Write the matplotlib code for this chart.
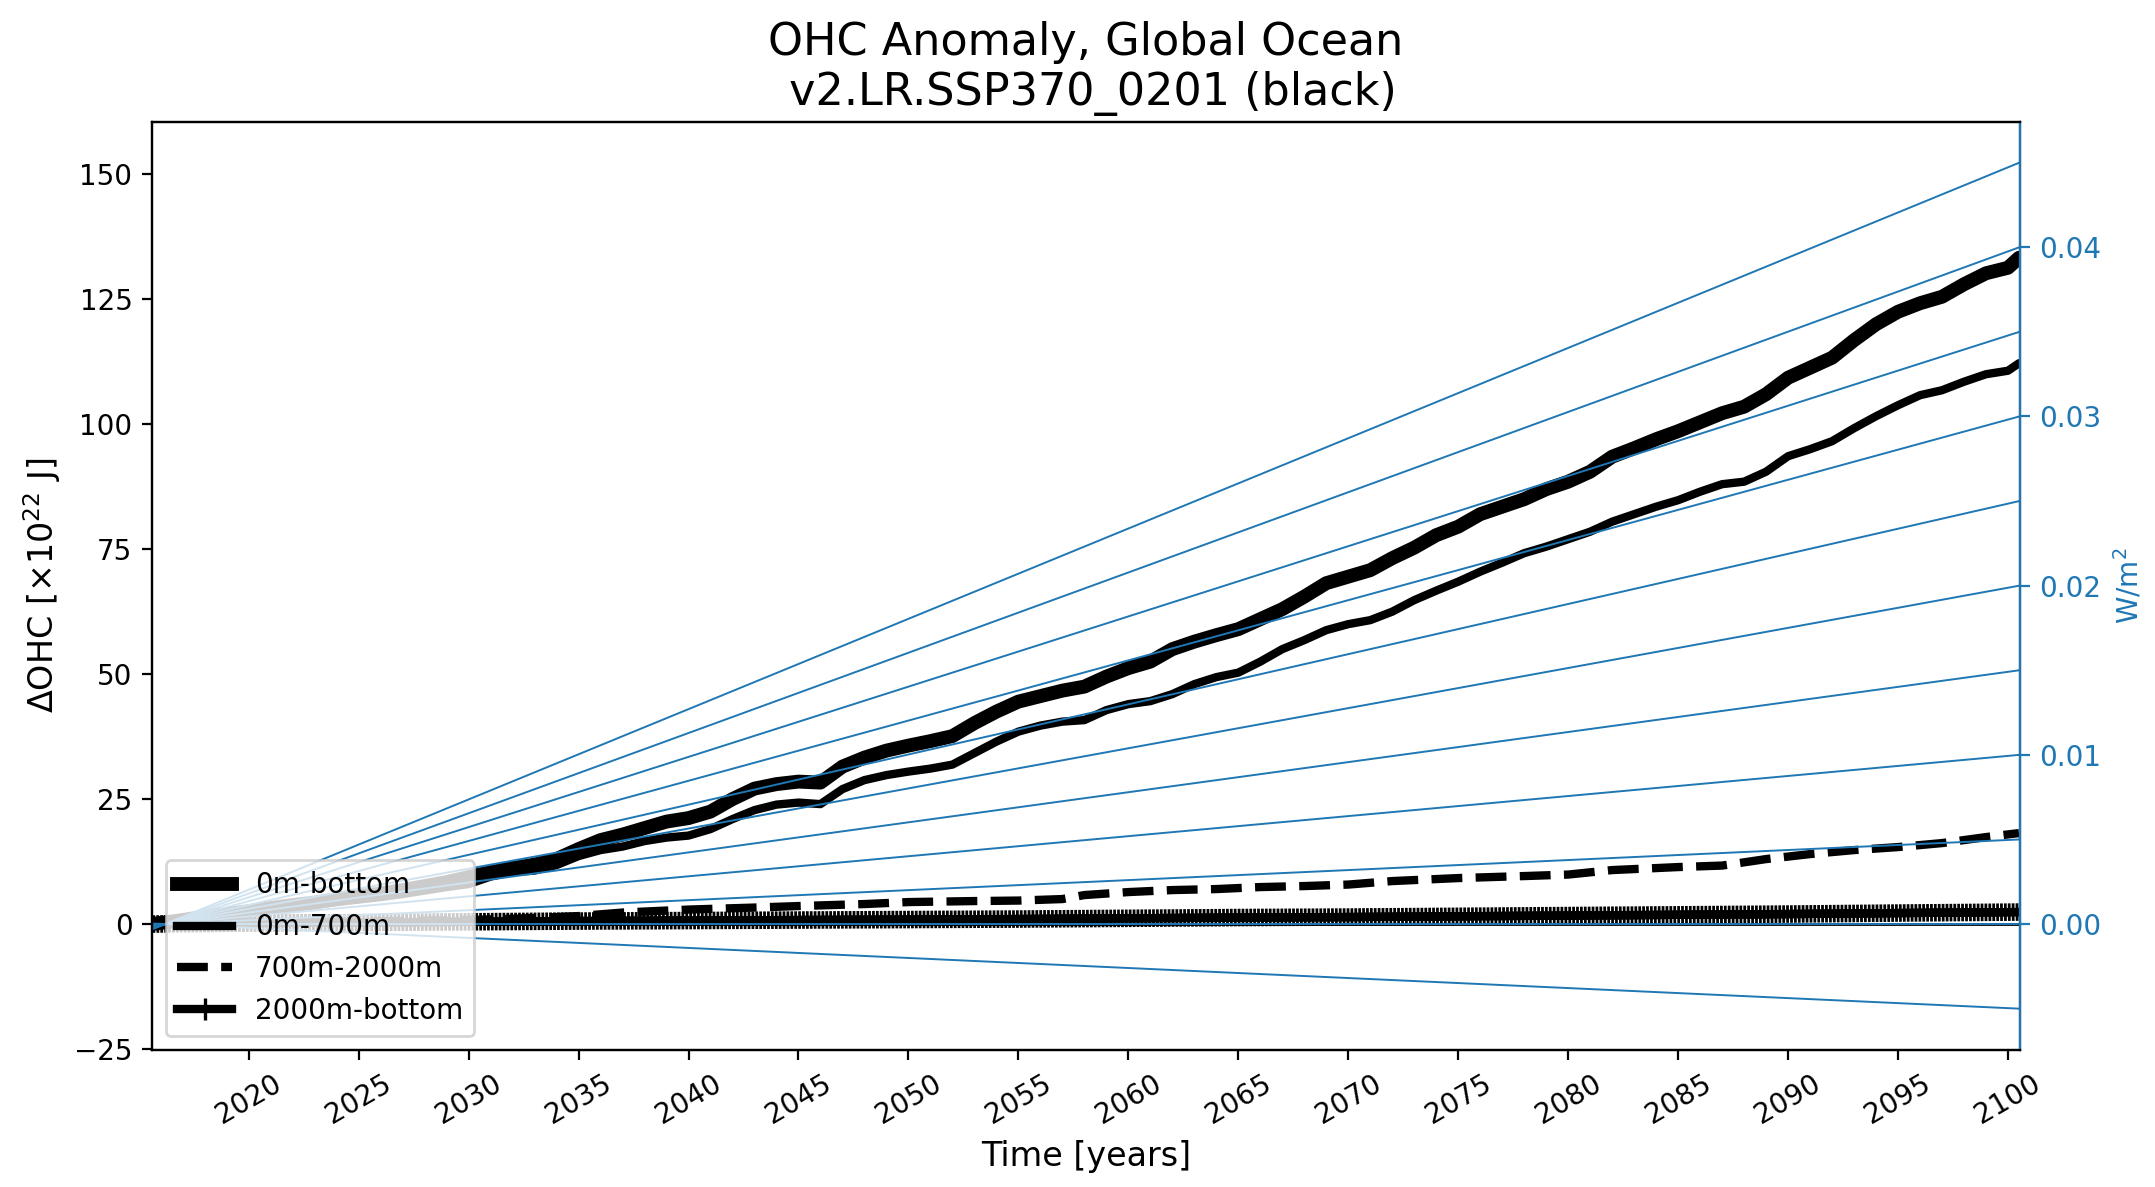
import numpy as np
import matplotlib
matplotlib.use('Agg')
import matplotlib.pyplot as plt
import matplotlib.patheffects as pe
from matplotlib.lines import Line2D

# annual values (x1e22 J)
years = [2015.6] + list(range(2017, 2101)) + [2100.5]
ohc_total = [0.0,
             0.8, 1.5, 2.0, 2.6, 3.2, 3.8, 4.3, 5.0, 5.6, 6.1, 6.8, 7.6, 8.4, 9.4,
             10.4, 11.2, 11.9, 13.0, 15.0, 16.8, 17.9, 19.2, 20.5, 21.2,
             22.5, 25.0, 27.1, 28.0, 28.5, 28.3, 31.5, 33.3, 34.7, 35.7,
             36.6, 37.6, 40.2, 42.5, 44.5, 45.6, 46.7, 47.5, 49.5, 51.2,
             52.5, 55.0, 56.5, 57.8, 59.0, 61.0, 63.0, 65.5, 68.2, 69.5,
             70.8, 73.2, 75.3, 77.8, 79.5, 82.0, 83.5, 85.0, 87.0, 88.5,
             90.5, 93.5, 95.2, 97.0, 98.6, 100.4, 102.2, 103.5, 106.0, 109.3,
             111.3, 113.3, 116.8, 120.0, 122.5, 124.2, 125.5, 128.0, 130.2, 131.3,
             133.3]
ohc_700 = [0.0,
           0.6, 1.2, 1.7, 2.2, 2.8, 3.3, 3.8, 4.4, 4.9, 5.4, 6.0, 6.7, 7.4, 8.0,
           9.5, 10.4, 10.7, 11.8, 13.6, 14.8, 15.5, 16.6, 17.3, 17.7,
           19.0, 21.0, 22.8, 23.9, 24.3, 24.0, 27.0, 28.8, 29.8, 30.5,
           31.1, 31.9, 34.2, 36.5, 38.5, 39.7, 40.5, 40.8, 42.8, 44.0,
           44.6, 46.0, 48.0, 49.4, 50.3, 52.5, 55.0, 56.8, 58.8, 60.0,
           60.8, 62.5, 64.8, 66.7, 68.5, 70.5, 72.3, 74.2, 75.5, 77.0,
           78.5, 80.5, 82.0, 83.5, 84.8, 86.5, 88.0, 88.5, 90.5, 93.6,
           95.0, 96.6, 99.2, 101.6, 103.8, 105.8, 106.8, 108.5, 110.0, 110.7,
           112.2]

years_mid = [2015.6, 2020, 2025, 2030, 2033, 2035, 2037, 2040, 2043, 2045, 2048,
             2050, 2053, 2055, 2057, 2058, 2060, 2062, 2064, 2066, 2068, 2070,
             2072, 2075, 2078, 2080, 2082, 2085, 2087, 2089, 2091, 2093, 2095,
             2097, 2099, 2100.5]
ohc_2000 = [0.0, 0.3, 0.5, 0.8, 1.2, 1.6, 2.3, 2.9, 3.3, 3.6, 4.0,
            4.4, 4.6, 4.7, 5.0, 5.8, 6.4, 6.8, 7.0, 7.4, 7.6, 7.9,
            8.6, 9.2, 9.6, 9.9, 10.8, 11.4, 11.7, 13.0, 14.0, 14.8, 15.4,
            16.2, 17.4, 18.2]

years_deep = [2015.6, 2020, 2025, 2030, 2035, 2040, 2045, 2050, 2055, 2060,
              2065, 2070, 2075, 2080, 2085, 2090, 2095, 2100.5]
ohc_deep = [0.0, 0.2, 0.3, 0.45, 0.6, 0.7, 0.8, 0.9, 1.0, 1.15,
            1.3, 1.4, 1.55, 1.7, 1.85, 2.0, 2.2, 2.4]

# reference heating-rate lines, value reached at the right edge (W/m^2)
rate_ends = [-0.005, 0.0, 0.005, 0.01, 0.015, 0.02, 0.025, 0.03, 0.035, 0.04, 0.045]
rate_start = 2016.2
wm2_per_unit = 2.953e-4   # W/m^2 per 1e22 J on this time span

xmin, xmax = 2015.6, 2100.55
ymin, ymax = -25.2, 160.55
blue = '#1f77b4'

fig = plt.figure(figsize=(10.775, 5.935), dpi=200)
fig.subplots_adjust(left=0.0705, right=0.9374, bottom=0.1154, top=0.8976)
ax = fig.add_subplot(111)

ax.axhline(0, color='k', lw=1.0)
ax.plot(years, ohc_total, color='k', lw=5, solid_joinstyle='round', solid_capstyle='round')
ax.plot(years, ohc_700, color='k', lw=3, solid_joinstyle='round', solid_capstyle='round')
ax.plot(years_mid, ohc_2000, color='k', lw=3, linestyle='--')
ax.plot(years_deep, ohc_deep, color='k', lw=3,
        path_effects=[pe.withTickedStroke(angle=90, spacing=1.4, length=1.9, linewidth=1.0),
                      pe.withTickedStroke(angle=-90, spacing=1.4, length=1.9, linewidth=1.0),
                      pe.Normal()])

for v in rate_ends:
    v_units = v / wm2_per_unit
    slope = v_units / (xmax - rate_start)
    ax.plot([xmin, xmax], [slope * (xmin - rate_start), v_units], color=blue, lw=0.7)

ax.set_xlim(xmin, xmax)
ax.set_ylim(ymin, ymax)
ax.set_xticks(np.arange(2020, 2101, 5))
plt.setp(ax.get_xticklabels(), rotation=30)
ax.tick_params(labelsize=10)
ax.set_xlabel('Time [years]', fontsize=12)
ax.set_ylabel(r'$\Delta$OHC [$\times 10^{22}$ J]', fontsize=12)
ax.set_title('OHC Anomaly, Global Ocean\n v2.LR.SSP370_0201 (black)', fontsize=16)

handles = [Line2D([], [], color='k', lw=5),
           Line2D([], [], color='k', lw=3),
           Line2D([], [], color='k', lw=3, linestyle='--'),
           Line2D([], [], color='k', lw=3, marker='+', ms=8, mew=1.2)]
labels = ['0m-bottom', '0m-700m', '700m-2000m', '2000m-bottom']
ax.legend(handles, labels, loc='lower left', fontsize=10)

ax2 = ax.twinx()
ax2.set_ylim(ymin * wm2_per_unit, ymax * wm2_per_unit)
ax2.set_ylabel('W/m$^2$', color=blue, fontsize=10)
ax2.tick_params(axis='y', colors=blue, labelsize=10)
ax2.spines['right'].set_color(blue)

fig.savefig('out.png', dpi=200)
